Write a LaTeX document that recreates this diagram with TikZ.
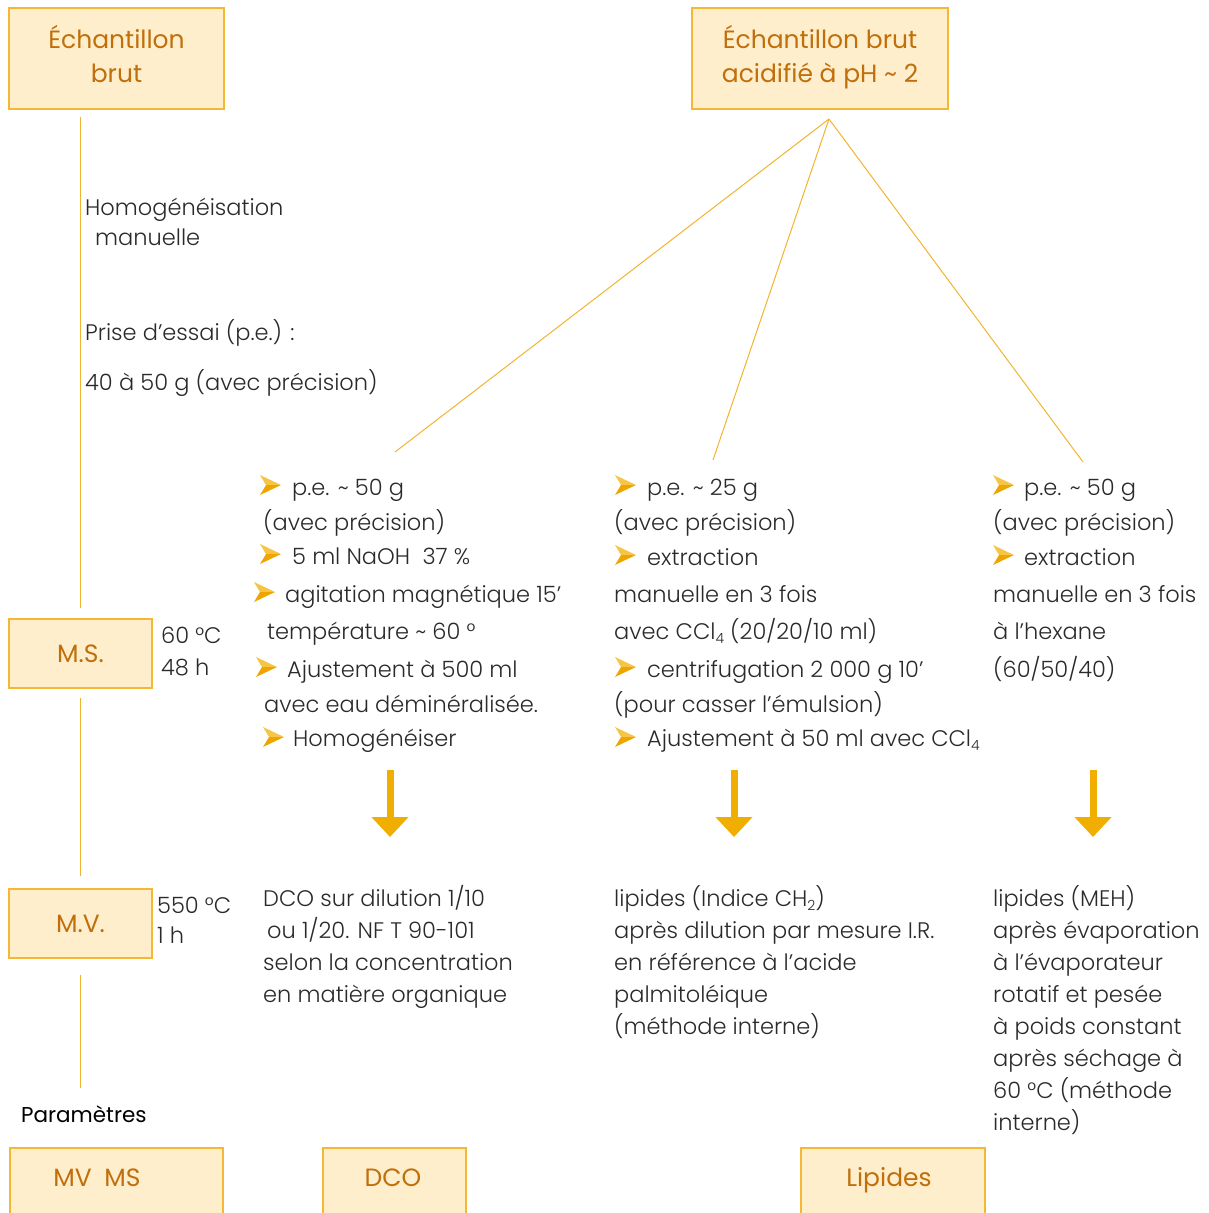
\documentclass[tikz,border=0pt]{standalone}
\usepackage{fontspec}
\IfFontExistsTF{Poppins Light}{\setmainfont{Poppins Light}}{\setmainfont{Poppins}}
\newfontfamily\regf{Poppins}
\usetikzlibrary{arrows.meta}
\definecolor{boxfill}{HTML}{FFEECC}
\definecolor{boxdraw}{HTML}{F6B735}
\definecolor{boxtxt}{HTML}{C06F0B}
\definecolor{linecol}{HTML}{F2B430}
\definecolor{arrcol}{HTML}{F0AE00}
\definecolor{bulA}{HTML}{F7C545}
\definecolor{bulB}{HTML}{EDA600}
\definecolor{bodytxt}{HTML}{2A2A2A}
\newcommand\bulat[2]{%
  \fill[bulA] (#1,#2-10) -- (#1+21,#2) -- (#1+6,#2) -- cycle;
  \fill[bulB] (#1+6,#2) -- (#1+21,#2) -- (#1,#2+10) -- cycle;}
\newcommand\sbs[1]{\raisebox{-0.4ex}{\fontsize{14}{14}\selectfont #1}}
\begin{document}
\begin{tikzpicture}[x=1pt,y=-1pt,
  box/.style={draw=boxdraw, fill=boxfill, line width=1.5pt, inner sep=0pt,
    text=boxtxt, font=\regf\fontsize{25}{36}\selectfont, align=center},
  txt/.style={anchor=base west, inner sep=0pt, text=bodytxt,
    font=\fontsize{22.5}{26}\selectfont},
  conn/.style={draw=linecol, line width=1pt},
  bigarrow/.style={draw=arrcol, line width=7pt, -{Triangle[width=36pt,length=20pt]}}]
\useasboundingbox (0,0) rectangle (1209,1213);
% top boxes
\node[box, minimum width=215pt, minimum height=101pt] (b1) at (116.5,58.5) {\raisebox{4pt}{\begin{tabular}{@{}c@{}}Échantillon\\[-2pt]brut\end{tabular}}};
\node[box, minimum width=256pt, minimum height=101pt] (b2) at (820,58.5) {\raisebox{2pt}{\begin{tabular}{@{}c@{}}Échantillon brut\\[-2pt]acidifié à pH \textasciitilde{} 2\end{tabular}}};
% left chain
\node[box, minimum width=143pt, minimum height=69pt] (ms) at (80.5,653.5) {M.S.};
\node[box, minimum width=143pt, minimum height=69pt] (mv) at (80.5,923.5) {M.V.};
\coordinate (parend) at (80.5,1088);
\draw[conn, shorten <=7pt, shorten >=10pt] (b1.south -| ms.north) -- (ms.north);
\draw[conn, shorten <=9pt, shorten >=12pt] (ms.south) -- (mv.north);
\draw[conn, shorten <=16pt] (mv.south) -- (parend);
% fan
\coordinate (apex) at (829,119);
\coordinate (e1) at (395,452);
\coordinate (e2) at (713,460);
\coordinate (e3) at (1083,462);
\draw[conn] (apex) -- (e1);
\draw[conn] (apex) -- (e2);
\draw[conn] (apex) -- (e3);
% left texts
\node[txt] (h1) at (85,215) {Homogénéisation};
\node[txt] (h2) at (95,245) {manuelle};
\node[txt] (h3) at (85,340) {Prise d’essai (p.e.) :};
\node[txt] (h4) at (85,390) {40 à 50 g (avec précision)};
\node[txt] (t1) at (161,643) {60 °C};
\node[txt] (t2) at (161,675) {48 h};
\node[txt] (t3) at (157,913) {550 °C};
\node[txt] (t4) at (157,943) {1 h};
% column 1
\bulat{260}{485}\bulat{260}{554}\bulat{254}{592}\bulat{256}{667}\bulat{263}{737}
\node[txt] (c1a) at (292,495) {p.e. \textasciitilde{} 50 g};
\node[txt] (c1b) at (263,530) {(avec précision)};
\node[txt] (c1c) at (292,564) {5 ml NaOH\ \ 37 \%};
\node[txt] (c1d) at (285,602) {agitation magnétique 15’};
\node[txt] (c1e) at (267,639) {température \textasciitilde{} 60 °};
\node[txt] (c1f) at (287,677) {Ajustement à 500 ml};
\node[txt] (c1g) at (264,712) {avec eau déminéralisée.};
\node[txt] (c1h) at (293,746) {Homogénéiser};
% column 2
\bulat{615}{485}\bulat{615}{555}\bulat{615}{667}\bulat{615}{737}
\node[txt] (c2a) at (647,495) {p.e. \textasciitilde{} 25 g};
\node[txt] (c2b) at (614,530) {(avec précision)};
\node[txt] (c2c) at (647,565) {extraction};
\node[txt] (c2d) at (614,602) {manuelle en 3 fois};
\node[txt] (c2e) at (614,639) {avec CCl\sbs{4} (20/20/10 ml)};
\node[txt] (c2f) at (647,677) {centrifugation 2 000 g 10’};
\node[txt] (c2g) at (614,712) {(pour casser l'émulsion)};
\node[txt] (c2h) at (647,746) {Ajustement à 50 ml avec CCl\sbs{4}};
% column 3
\bulat{993}{485}\bulat{993}{555}
\node[txt] (c3a) at (1024,495) {p.e. \textasciitilde{} 50 g};
\node[txt] (c3b) at (993,530) {(avec précision)};
\node[txt] (c3c) at (1024,565) {extraction};
\node[txt] (c3d) at (993,602) {manuelle en 3 fois};
\node[txt] (c3e) at (993,639) {à l’hexane};
\node[txt] (c3f) at (993,677) {(60/50/40)};
% arrows
\coordinate (a1s) at (390,770); \coordinate (a1e) at (390,837);
\coordinate (a2s) at (734,770); \coordinate (a2e) at (734,837);
\coordinate (a3s) at (1093,770); \coordinate (a3e) at (1093,837);
\draw[bigarrow] (a1s) -- (a1e);
\draw[bigarrow] (a2s) -- (a2e);
\draw[bigarrow] (a3s) -- (a3e);
% results
\node[txt] (r1a) at (263,906) {DCO sur dilution 1/10};
\node[txt] (r1b) at (267,938) {ou 1/20. NF T 90-101};
\node[txt] (r1c) at (263,970) {selon la concentration};
\node[txt] (r1d) at (263,1002) {en matière organique};
\node[txt] (r2a) at (614,906) {lipides (Indice CH\sbs{2})};
\node[txt] (r2b) at (614,938) {après dilution par mesure I.R.};
\node[txt] (r2c) at (614,970) {en référence à l’acide};
\node[txt] (r2d) at (614,1002) {palmitoléique};
\node[txt] (r2e) at (614,1034) {(méthode interne)};
\node[txt] (r3a) at (993,906) {lipides (MEH)};
\node[txt] (r3b) at (993,938) {après évaporation};
\node[txt] (r3c) at (993,970) {à l’évaporateur};
\node[txt] (r3d) at (993,1002) {rotatif et pesée};
\node[txt] (r3e) at (993,1034) {à poids constant};
\node[txt] (r3f) at (993,1066) {après séchage à};
\node[txt] (r3g) at (993,1098) {60 °C (méthode};
\node[txt] (r3h) at (993,1130) {interne)};
% parameters
\node[txt, text=black, font=\regf\fontsize{21.5}{24}\selectfont] (par) at (21,1122) {Paramètres};
\node[box, minimum width=213pt, minimum height=72pt, anchor=north west] (pmv) at (9,1147) {};
\node[box, minimum width=143pt, minimum height=72pt, anchor=north west] (pdco) at (322,1147) {};
\node[box, minimum width=184pt, minimum height=72pt, anchor=north west] (plip) at (800,1147) {};
\node[box, draw=none, fill=none] (pmvt) at (97,1178) {MV\enspace MS};
\node[box, draw=none, fill=none] (pdcot) at (393,1178) {DCO};
\node[box, draw=none, fill=none] (plipt) at (889,1180) {Lipides};
\end{tikzpicture}
\end{document}
